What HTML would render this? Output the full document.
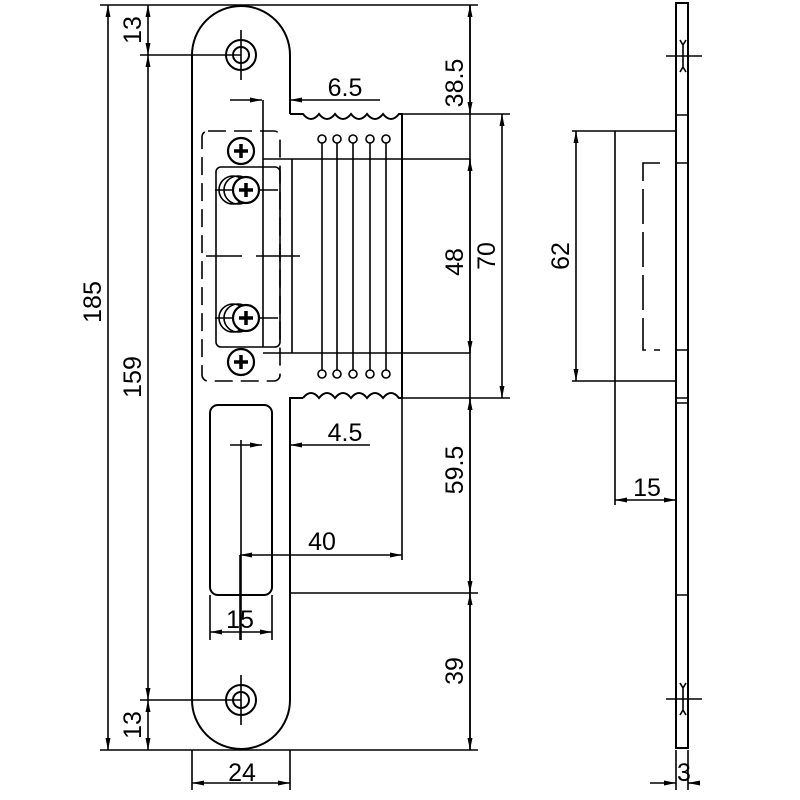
<!DOCTYPE html>
<html><head><meta charset="utf-8"><style>html,body{margin:0;background:#fff}svg{display:block}text{font-family:"Liberation Sans",sans-serif;font-size:25px;fill:#000}</style></head><body>
<svg width="800" height="800" viewBox="0 0 800 800" xmlns="http://www.w3.org/2000/svg">
<defs>
<marker id="a" markerWidth="12" markerHeight="8" refX="12" refY="4" orient="auto-start-reverse" markerUnits="userSpaceOnUse"><path d="M0,1.5 L12,4 L0,6.5 Z" fill="#000"/></marker>
<g id="scr"><circle r="13" fill="#fff" stroke="#000" stroke-width="2.2"/><path d="M-7,0 H7 M0,-7 V7" stroke="#000" stroke-width="3.5"/></g>
</defs>
<g fill="none" stroke="#000" stroke-width="1.6">
<path d="M290,114 L290,55 A49,49 0 0 0 192,55 L192,700 A49,49 0 0 0 290,700 L290,398 L303,398" stroke-width="2"/>
<path d="M290,114 L303,114 Q311,124 319,114 Q327,124 335,114 Q343,124 351,114 Q359,124 367,114 Q375,124 383,114 Q391,124 399,114 L402,114 L402,398 L399,398 Q391,388 383,398 Q375,388 367,398 Q359,388 351,398 Q343,388 335,398 Q327,388 319,398 Q311,388 303,398" stroke-width="2"/>
<circle cx="241" cy="55" r="15" stroke-width="2"/><circle cx="241" cy="55" r="8" stroke-width="2"/>
<circle cx="241" cy="700" r="15" stroke-width="2"/><circle cx="241" cy="700" r="8" stroke-width="2"/>
<path d="M241,30 V80 M241,675 V725"/>
<rect x="202" y="131" width="78" height="250" rx="6" stroke-dasharray="18,8"/>
<rect x="216" y="167" width="64" height="180" rx="5"/>
<path d="M263,100 V347 M292,159 V353 M263,159 H470 M263,353 H470"/>
<path d="M206,256 H242 M256,256 H300" />
<path d="M322,143 V370 M337,143 V370 M353,143 V370 M370,143 V370 M386,143 V370"/>
<g fill="#fff"><circle cx="322" cy="139" r="4"/><circle cx="337" cy="139" r="4"/><circle cx="353" cy="139" r="4"/><circle cx="370" cy="139" r="4"/><circle cx="386" cy="139" r="4"/>
<circle cx="322" cy="374" r="4"/><circle cx="337" cy="374" r="4"/><circle cx="353" cy="374" r="4"/><circle cx="370" cy="374" r="4"/><circle cx="386" cy="374" r="4"/></g>
<rect x="210" y="405" width="62" height="190" rx="8" stroke-width="2"/>
<path d="M241,440 V640"/>
<circle cx="233" cy="190" r="14"/><circle cx="238" cy="190" r="14"/>
<circle cx="233" cy="318" r="14"/><circle cx="238" cy="318" r="14"/>
<path d="M215,190 H278 M215,318 H278"/>
<path d="M100,5 H240 M140,55 H241 M140,700 H241 M100,750 H240"/>
<path d="M108,5 V750" marker-start="url(#a)" marker-end="url(#a)"/>
<path d="M148,55 V700" marker-start="url(#a)" marker-end="url(#a)"/>
<path d="M148,5 V55" marker-start="url(#a)" marker-end="url(#a)"/>
<path d="M148,700 V750" marker-start="url(#a)" marker-end="url(#a)"/>
<path d="M240,5 H478 M402,114 H478 M402,398 H478 M290,593 H478 M240,750 H478 M470,114 H510 M470,398 H510"/>
<path d="M470,5 V750"/>
<path d="M470,5 V114" marker-start="url(#a)" marker-end="url(#a)"/>
<path d="M470,159 V353" marker-start="url(#a)" marker-end="url(#a)"/>
<path d="M470,398 V593" marker-start="url(#a)" marker-end="url(#a)"/>
<path d="M470,593 V750" marker-start="url(#a)" marker-end="url(#a)"/>
<path d="M502,114 V398" marker-start="url(#a)" marker-end="url(#a)"/>
<path d="M230,100 H262" marker-end="url(#a)"/><path d="M380,100 H290" marker-end="url(#a)"/>
<path d="M230,445 H262" marker-end="url(#a)"/><path d="M370,445 H290" marker-end="url(#a)"/>
<path d="M290,445 V400"/>
<path d="M240,555 H402" marker-start="url(#a)" marker-end="url(#a)"/>
<path d="M402,398 V560 M240,555 V640"/>
<path d="M210,595 V640 M272,595 V640"/>
<path d="M210,632 H272" marker-start="url(#a)" marker-end="url(#a)"/>
<path d="M192,750 V790 M290,750 V790"/>
<path d="M192,783 H290" marker-start="url(#a)" marker-end="url(#a)"/>
<rect x="676" y="3" width="12" height="745" stroke-width="2"/>
<path d="M676,115 H688 M676,163 H688 M676,350 H688 M676,398 H688 M676,403 H688 M676,595 H688"/>
<path d="M680,40 L683,45 L686,40 M680,72 L683,67 L686,72 M683,45 V67" stroke-width="1.6"/>
<path d="M666,56 H702"/>
<path d="M680,683 L683,688 L686,683 M680,715 L683,710 L686,715 M683,688 V710"/>
<path d="M666,699 H702"/>
<path d="M572,131 H676 M572,381 H676 M615,131 V505 M676,748 V505"/>
<path d="M576,131 V381" marker-start="url(#a)" marker-end="url(#a)"/>
<path d="M660,163 H643 V350 H660" stroke-dasharray="35,8"/>
<path d="M615,500 H676" marker-start="url(#a)" marker-end="url(#a)"/>
<path d="M676,750 V790 M688,750 V790"/>
<path d="M650,783 H676" marker-end="url(#a)"/><path d="M700,783 H688" marker-end="url(#a)"/>
</g>
<use href="#scr" x="241" y="151"/><use href="#scr" x="246" y="190"/><use href="#scr" x="246" y="318"/><use href="#scr" x="241" y="362"/>
<text x="345" y="96" text-anchor="middle">6.5</text>
<text x="345" y="441" text-anchor="middle">4.5</text>
<text x="322" y="550" text-anchor="middle">40</text>
<text x="240" y="628" text-anchor="middle">15</text>
<text x="242" y="781" text-anchor="middle">24</text>
<text x="647" y="496" text-anchor="middle">15</text>
<text x="684" y="781" text-anchor="middle">3</text>
<g text-anchor="middle">
<text transform="translate(101,302) rotate(-90)">185</text>
<text transform="translate(141,377) rotate(-90)">159</text>
<text transform="translate(141,30) rotate(-90)">13</text>
<text transform="translate(141,725) rotate(-90)">13</text>
<text transform="translate(463,83) rotate(-90)">38.5</text>
<text transform="translate(463,262) rotate(-90)">48</text>
<text transform="translate(495,256) rotate(-90)">70</text>
<text transform="translate(463,470) rotate(-90)">59.5</text>
<text transform="translate(463,671) rotate(-90)">39</text>
<text transform="translate(569,256) rotate(-90)">62</text>
</g>
</svg>
</body></html>
